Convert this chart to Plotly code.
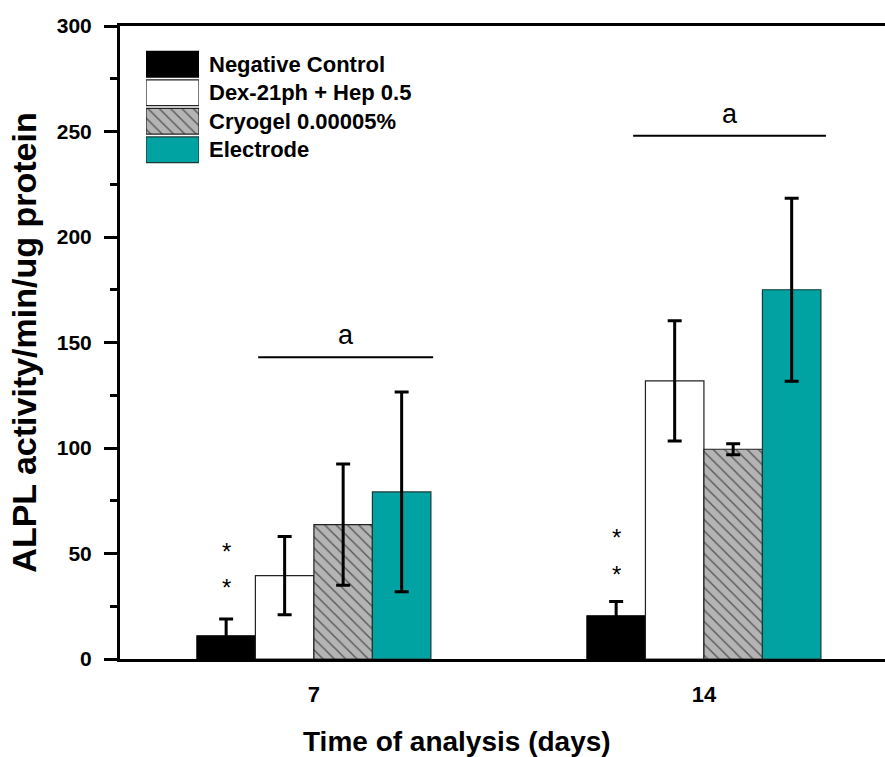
import plotly.graph_objects as go

# Time points (days) and group means / standard deviations
days = [7, 14]
tick_labels = ["7", "14"]

neg_ctrl = [11.0, 20.5]
neg_ctrl_sd = [8.0, 6.7]
dex_hep = [39.5, 131.8]
dex_hep_sd = [18.5, 28.5]
cryogel = [63.7, 99.4]
cryogel_sd = [28.7, 2.6]
electrode = [79.2, 175.0]
electrode_sd = [47.3, 43.4]

series_names = ["Negative Control", "Dex-21ph + Hep 0.5", "Cryogel 0.00005%", "Electrode"]

# Significance markers
star_y = [[51, 34], [57.8, 40]]          # asterisks above the negative control bars
sig_y = [143, 248]                        # horizontal bracket heights
sig_x0 = [6.0, 12.73]
sig_x1 = [9.14, 16.19]
sig_label = ["a", "a"]

FONT = "Liberation Sans"
BAR_GAP = 0.4
n_series = 4
bar_w = (1 - BAR_GAP) * (days[1] - days[0]) / n_series

styles = [
    dict(color="black", line=dict(color="black", width=1.2)),
    dict(color="white", line=dict(color="#222222", width=1.2)),
    dict(color="#b4b4b4", line=dict(color="#222222", width=1.2),
         pattern=dict(shape="\\", fgcolor="black", bgcolor="#b4b4b4", size=8, solidity=0.18)),
    dict(color="#00a3a1", line=dict(color="#1a3a3a", width=1.2)),
]
values = [neg_ctrl, dex_hep, cryogel, electrode]
errors = [neg_ctrl_sd, dex_hep_sd, cryogel_sd, electrode_sd]

fig = go.Figure()
for name, vals, errs, st in zip(series_names, values, errors, styles):
    fig.add_trace(go.Bar(
        x=days, y=vals, name=name, marker=st, showlegend=False,
        error_y=dict(type="data", array=errs, visible=True,
                     color="black", thickness=3, width=7),
    ))

# Legend swatches drawn as bars on a small auxiliary axis
for i, (name, st) in enumerate(zip(series_names, styles)):
    fig.add_trace(go.Bar(
        x=[1], y=[3 - i], base=0, orientation="h", width=0.9,
        marker=st, xaxis="x2", yaxis="y2", showlegend=False, hoverinfo="skip",
    ))
    fig.add_annotation(
        x=0.1137, xref="paper", y=3 - i, yref="y2", text=name,
        showarrow=False, xanchor="left", yanchor="middle",
        font=dict(family=FONT, size=22, color="black", weight="bold"),
    )

# Asterisks
for d, ys in zip(days, star_y):
    for yv in ys:
        fig.add_annotation(
            x=d - 1.5 * bar_w, y=yv, text="*", showarrow=False,
            yanchor="middle", font=dict(family=FONT, size=24, color="black"),
        )

# Significance brackets
for x0, x1, yv, lab in zip(sig_x0, sig_x1, sig_y, sig_label):
    fig.add_shape(type="line", x0=x0, x1=x1, y0=yv, y1=yv,
                  line=dict(color="black", width=2))
    fig.add_annotation(
        x=(x0 + x1) / 2, y=yv, text=lab, showarrow=False,
        yanchor="bottom", yshift=5,
        font=dict(family=FONT, size=27, color="black"),
    )

# X-axis title, centred under the two groups
fig.add_annotation(
    x=0.4405, xref="paper", y=-0.102, yref="paper",
    text="Time of analysis (days)", showarrow=False,
    xanchor="center", yanchor="top",
    font=dict(family=FONT, size=28, color="black", weight="bold"),
)

fig.update_layout(
    width=885, height=757,
    margin=dict(l=120, r=0, t=26, b=98),
    paper_bgcolor="white", plot_bgcolor="white",
    barmode="group", bargap=BAR_GAP, bargroupgap=0,
    showlegend=False,
    font=dict(family=FONT, color="black"),
    xaxis=dict(
        range=[3.52, 17.25], tickvals=days, ticktext=tick_labels,
        showgrid=False, zeroline=False, ticks="",
        showline=True, linecolor="black", linewidth=3, mirror=True,
        tickfont=dict(family=FONT, size=22, color="black", weight="bold"),
        ticklabelstandoff=14,
    ),
    yaxis=dict(
        range=[0, 300], tickvals=[0, 50, 100, 150, 200, 250, 300],
        showgrid=False, zeroline=False,
        ticks="outside", ticklen=13, tickwidth=3, tickcolor="black",
        minor=dict(tickvals=[25, 75, 125, 175, 225, 275], ticks="outside",
                   ticklen=7, tickwidth=3, tickcolor="black"),
        showline=True, linecolor="black", linewidth=3,
        tickfont=dict(family=FONT, size=21, color="black", weight="bold"),
        ticklabelstandoff=8,
        title=dict(text="ALPL activity/min/ug protein", standoff=10,
                   font=dict(family=FONT, size=34, color="black", weight="bold")),
    ),
    xaxis2=dict(domain=[0.034, 0.1033], range=[0, 1], anchor="y2", visible=False),
    yaxis2=dict(domain=[0.782, 0.962], range=[-0.5, 3.5], anchor="x2", visible=False),
)

fig.write_html("out.html")
